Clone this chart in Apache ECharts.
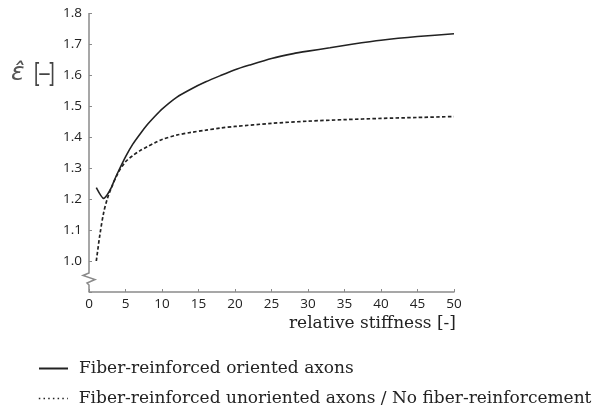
<!DOCTYPE html>
<html><head><meta charset="utf-8">
<script src="https://cdn.jsdelivr.net/npm/echarts@6/dist/echarts.min.js"></script>
<style>html,body{margin:0;padding:0;background:#fff}#c{width:604px;height:411px}</style>
</head><body><div id="c"></div>
<script>
const seriesNames = ['Fiber-reinforced oriented axons', 'Fiber-reinforced unoriented axons / No fiber-reinforcement'];
const orientedX = [1, 2, 2.5, 3, 3.5, 4, 5, 6, 7, 8, 9, 10, 12, 14, 16, 18, 20, 22, 25, 28, 30, 33, 36, 40, 45, 50];
const orientedY = [1.237, 1.202, 1.214, 1.234, 1.262, 1.288, 1.336, 1.377, 1.41, 1.44, 1.466, 1.49, 1.528, 1.555, 1.578, 1.598, 1.617, 1.632, 1.653, 1.669, 1.677, 1.688, 1.699, 1.712, 1.724, 1.733];
const unorientedX = [1, 1.5, 2, 2.5, 3, 4, 5, 6, 7, 8, 9, 10, 12, 14, 16, 18, 20, 25, 30, 35, 40, 45, 50];
const unorientedY = [1.0, 1.086, 1.155, 1.2, 1.232, 1.285, 1.32, 1.34, 1.356, 1.369, 1.381, 1.392, 1.406, 1.415, 1.422, 1.429, 1.434, 1.444, 1.451, 1.456, 1.46, 1.463, 1.466];
const xTicks = [0, 50, 5];   // min, max, interval
const yTicks = [0.9, 1.8, 0.1];
const xTitle = 'relative stiffness [-]';
const yTitleSymbol = 'ε̂';
const yTitleUnit = '[–]';

const chart = echarts.init(document.getElementById('c'));
const axisGray = '#8a8a8a';
const sans = 'Open Sans';
const serif = 'DejaVu Serif';
const legendCommon = {
  orient: 'vertical', left: 38, padding: 0, itemWidth: 29, itemHeight: 10, itemGap: 0,
  textStyle: {fontFamily: serif, fontSize: 17, color: '#222', padding: [0, 0, 0, 6]},
  itemStyle: {opacity: 0}
};
chart.setOption({
  animation: false,
  grid: {left: 89, right: 150, top: 13, bottom: 119},
  xAxis: {
    type: 'value', min: xTicks[0], max: xTicks[1], interval: xTicks[2],
    axisLine: {lineStyle: {color: axisGray, width: 1.5}},
    axisTick: {inside: true, length: 3, lineStyle: {color: axisGray}},
    axisLabel: {color: '#222', fontFamily: sans, fontSize: 13.5, margin: 5},
    splitLine: {show: false}
  },
  yAxis: {
    type: 'value', min: yTicks[0], max: yTicks[1], interval: yTicks[2],
    axisLine: {show: false},
    axisTick: {inside: true, length: 3, lineStyle: {color: axisGray}},
    axisLabel: {color: '#222', fontFamily: sans, fontSize: 13.5, margin: 7,
      formatter: v => (Math.abs(v - 0.9) < 1e-6 ? '' : v.toFixed(1))},
    splitLine: {show: false}
  },
  legend: [
    Object.assign({}, legendCommon, {top: 360, data: [seriesNames[0]],
      lineStyle: {width: 2}}),
    Object.assign({}, legendCommon, {top: 390, data: [seriesNames[1]],
      lineStyle: {width: 1.6, type: [1.5, 3.2]}})
  ],
  series: [
    {name: seriesNames[0], type: 'line', symbol: 'none', smooth: 0.2,
     lineStyle: {color: '#222', width: 1.6},
     itemStyle: {color: '#222'},
     data: orientedX.map((x, i) => [x, orientedY[i]])},
    {name: seriesNames[1], type: 'line', symbol: 'none', smooth: 0.3,
     lineStyle: {color: '#222', width: 1.7, type: [3.5, 2.3]},
     itemStyle: {color: '#222'},
     data: unorientedX.map((x, i) => [x, unorientedY[i]])}
  ]
});

const yTopPx = chart.convertToPixel({yAxisIndex: 0}, yTicks[1]);
const yBotPx = chart.convertToPixel({yAxisIndex: 0}, yTicks[0]);
const x0 = chart.convertToPixel({xAxisIndex: 0}, xTicks[0]);
const x1 = chart.convertToPixel({xAxisIndex: 0}, xTicks[1]);
const zTop = yBotPx - 19;
chart.setOption({
  graphic: [
    {type: 'polyline', silent: true, z: 10,
     shape: {points: [[x0, yTopPx], [x0, zTop], [x0 - 6, zTop + 2.5], [x0 + 6, zTop + 6.5], [x0 - 2, zTop + 10], [x0, zTop + 12], [x0, yBotPx]]},
     style: {stroke: axisGray, lineWidth: 1.5, fill: null}},
    {type: 'text', left: 11, top: 61, z: 10,
     style: {text: yTitleSymbol, font: 'italic 25px "DejaVu Sans"', fill: '#555'}},
    {type: 'text', x: 34, y: 61, scaleX: 0.72, z: 10,
     style: {text: yTitleUnit, font: '26px "Liberation Sans"', fill: '#444'}},
    {type: 'text', z: 10, x: x1 + 2, y: yBotPx + 32,
     style: {text: xTitle, font: '17px "DejaVu Serif"', fill: '#222', align: 'right', verticalAlign: 'middle'}}
  ]
});
</script></body></html>
